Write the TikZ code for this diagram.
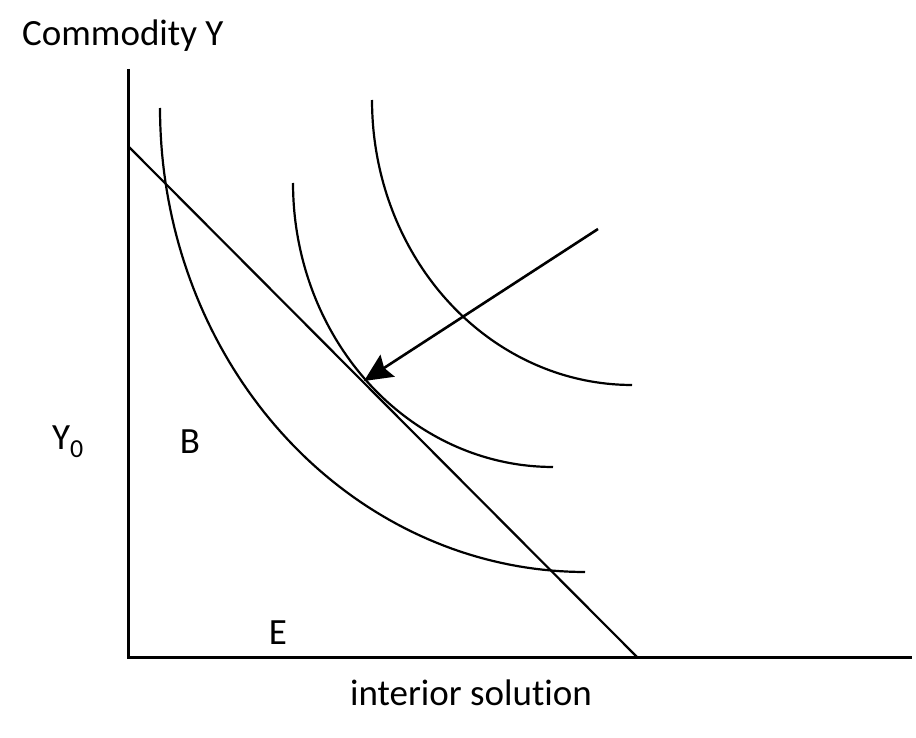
\documentclass[tikz,border=0pt]{standalone}
\usepackage{fontspec}
\setmainfont{Carlito}[Ligatures=NoCommon]
\usetikzlibrary{arrows.meta}
\begin{document}
\begin{tikzpicture}[x=1pt,y=-1pt,
  axis/.style={line width=3pt},
  curve/.style={line width=2.2pt},
  lbl/.style={font=\fontsize{37}{40}\selectfont, inner sep=0pt}]
\useasboundingbox (0,0) rectangle (916,738);
\coordinate (ytop) at (128,69);
\coordinate (origin) at (128,657);
\coordinate (xend) at (912,657);
\coordinate (bla) at (128,146);
\coordinate (blb) at (637,657);
\coordinate (tail) at (598,229);
\coordinate (tip) at (364,381);
\draw[axis] (ytop) -- (origin) -- (xend);
\draw[curve] (bla) -- (blb);
\draw[curve] plot[domain=0:90, samples=80] ({585-425*cos(\x)},{108+464*sin(\x)});
\draw[curve] plot[domain=0:90, samples=80] ({553-260*cos(\x)},{183+284*sin(\x)});
\draw[curve] plot[domain=0:90, samples=80] ({632-260*cos(\x)},{100+285*sin(\x)});
\draw[curve, line width=2.6pt, -{Stealth[length=28pt,width=26pt,inset=4pt]}] (tail) -- (tip);
\node[lbl, anchor=west] (ty) at (22,36) {Commodity Y};
\node[lbl] (y0) at (68,442) {Y\textsubscript{0}};
\node[lbl] (b) at (190,442) {B};
\node[lbl] (e) at (278,633) {E};
\node[lbl] (xs) at (471,693) {interior solution};
\end{tikzpicture}
\end{document}
